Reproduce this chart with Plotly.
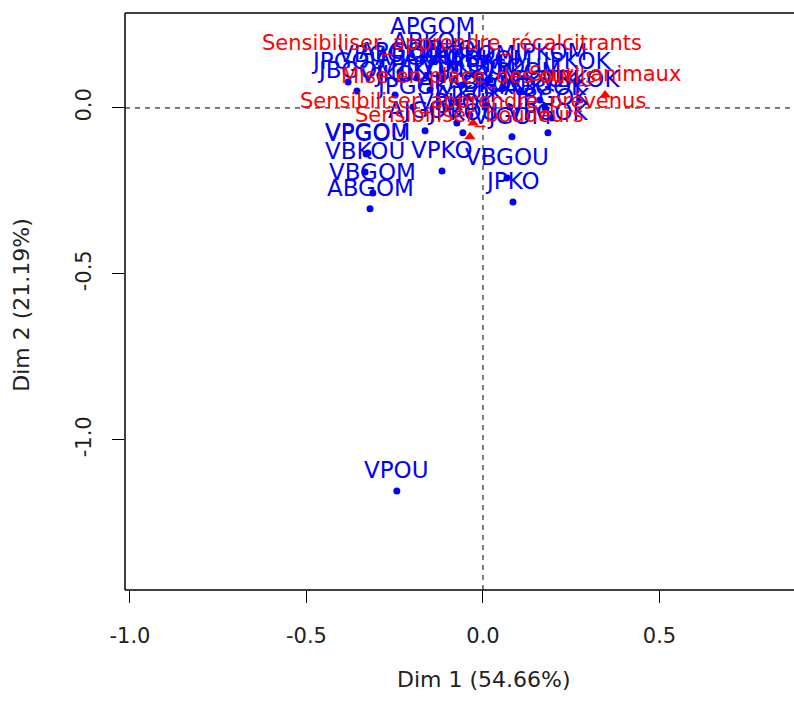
import plotly.graph_objects as go

# Row points (blue)
row_labels = ["APGOM", "VPGOM", "VPGOU", "VBKOU", "VBGOM", "ABGOM", "VPKO", "VBGOU",
              "JPKO", "VPOU", "JPKOK", "JBGOM", "JPGOU", "VBGOK", "APGOU", "ABGOU",
              "ABKOU", "APKOU", "JBKOU", "VBKOM", "APKOM", "ABKOM", "JBGOU", "VPKOM",
              "JPKOM", "VBKOK", "APGOK", "ABGOK", "JBGOK", "VPGOK", "JPGOK", "APKOK",
              "ABKOK", "JBKOK", "JPKOU", "VPKOK", "AJGOU", "VJGOM", "VJKOU", "JJKOM", "AJKOK"]
row_x = [-0.144, -0.326, -0.331, -0.334, -0.312, -0.320, -0.116, 0.068,
         0.085, -0.244, 0.266, -0.357, -0.382, -0.292, -0.235, -0.187,
         -0.144, -0.116, -0.079, -0.059, -0.023, 0.020, 0.057, 0.105,
         0.190, 0.275, 0.161, 0.176, 0.195, 0.184, -0.198, -0.074,
         0.011, 0.076, -0.057, -0.074, -0.164, 0.082, -0.249, -0.150, -0.037]
row_y = [0.184, -0.136, -0.139, -0.193, -0.256, -0.304, -0.190, -0.211,
         -0.283, -1.154, 0.078, 0.051, 0.078, 0.099, 0.108, 0.090,
         0.139, 0.090, 0.114, 0.069, 0.099, 0.084, 0.060, 0.048,
         0.105, 0.024, 0.024, 0.000, -0.030, -0.075, 0.003, 0.018,
         0.009, 0.003, -0.075, -0.045, -0.069, -0.087, 0.039, 0.054, -0.021]

# Column points (red)
col_labels = ["Sensibiliser_apprendre_récalcitrants", "Mise en place_des outils",
              "Suivi_animaux", "Sensibiliser_apprendre_prévenus", "Sensibiliser_boudeurs"]
col_x = [-0.088, -0.042, 0.346, -0.028, -0.037]
col_y = [0.130, 0.030, 0.039, -0.045, -0.087]

x_title = "Dim 1 (54.66%)"
y_title = "Dim 2 (21.19%)"
x_ticks = [-1.0, -0.5, 0.0, 0.5]
y_ticks = [-1.0, -0.5, 0.0]

FONT = "DejaVu Sans, Verdana, sans-serif"
BLUE = "#0000FF"
RED = "#FF0000"
TXT = "#222222"

fig = go.Figure()
fig.add_hline(y=0, line=dict(color="black", width=1, dash="5px,5px"))
fig.add_vline(x=0, line=dict(color="black", width=1, dash="5px,5px"))

fig.add_trace(go.Scatter(x=row_x, y=row_y, mode="markers",
                         marker=dict(color=BLUE, size=7), hoverinfo="skip"))
fig.add_trace(go.Scatter(x=col_x, y=col_y, mode="markers",
                         marker=dict(color=RED, size=10, symbol="triangle-up"), hoverinfo="skip"))

for lab, x, y in zip(row_labels, row_x, row_y):
    fig.add_annotation(x=x, y=y, text=lab, showarrow=False, yshift=21,
                       font=dict(family=FONT, size=23, color=BLUE))
for lab, x, y in zip(col_labels, col_x, col_y):
    fig.add_annotation(x=x, y=y, text=lab, showarrow=False, yshift=21,
                       font=dict(family=FONT, size=21, color=RED))

# axis titles
fig.add_annotation(xref="paper", yref="paper", x=0.537, y=-0.155, yanchor="middle",
                   text=x_title, showarrow=False, font=dict(family=FONT, size=22, color=TXT))
fig.add_annotation(xref="paper", yref="paper", x=-0.155, y=0.495, xanchor="center",
                   text=y_title, textangle=-90, showarrow=False,
                   font=dict(family=FONT, size=22, color=TXT))

# frame (left, top, bottom)
for x0, y0, x1, y1 in [(0, 0, 0, 1), (0, 1, 1.01, 1), (0, 0, 1.01, 0)]:
    fig.add_shape(type="line", xref="paper", yref="paper", x0=x0, y0=y0, x1=x1, y1=y1,
                  line=dict(color="black", width=1.5))

fig.update_layout(
    width=794, height=701,
    margin=dict(l=125, r=0, t=13, b=111),
    paper_bgcolor="white", plot_bgcolor="white",
    showlegend=False,
    xaxis=dict(range=[-1.014, 0.881], tickvals=x_ticks, ticktext=["-1.0", "-0.5", "0.0", "0.5"],
               ticks="outside", ticklen=12, tickcolor="black", showgrid=False, zeroline=False,
               showline=False, ticklabelstandoff=15,
               tickfont=dict(family=FONT, size=21, color=TXT)),
    yaxis=dict(range=[-1.452, 0.286], tickvals=y_ticks, ticktext=["-1.0", "-0.5", "0.0"],
               ticks="outside", ticklen=12, tickcolor="black", showgrid=False, zeroline=False,
               showline=False, tickangle=-90, ticklabelstandoff=13,
               tickfont=dict(family=FONT, size=21, color=TXT)),
)

fig.write_html("out.html")
